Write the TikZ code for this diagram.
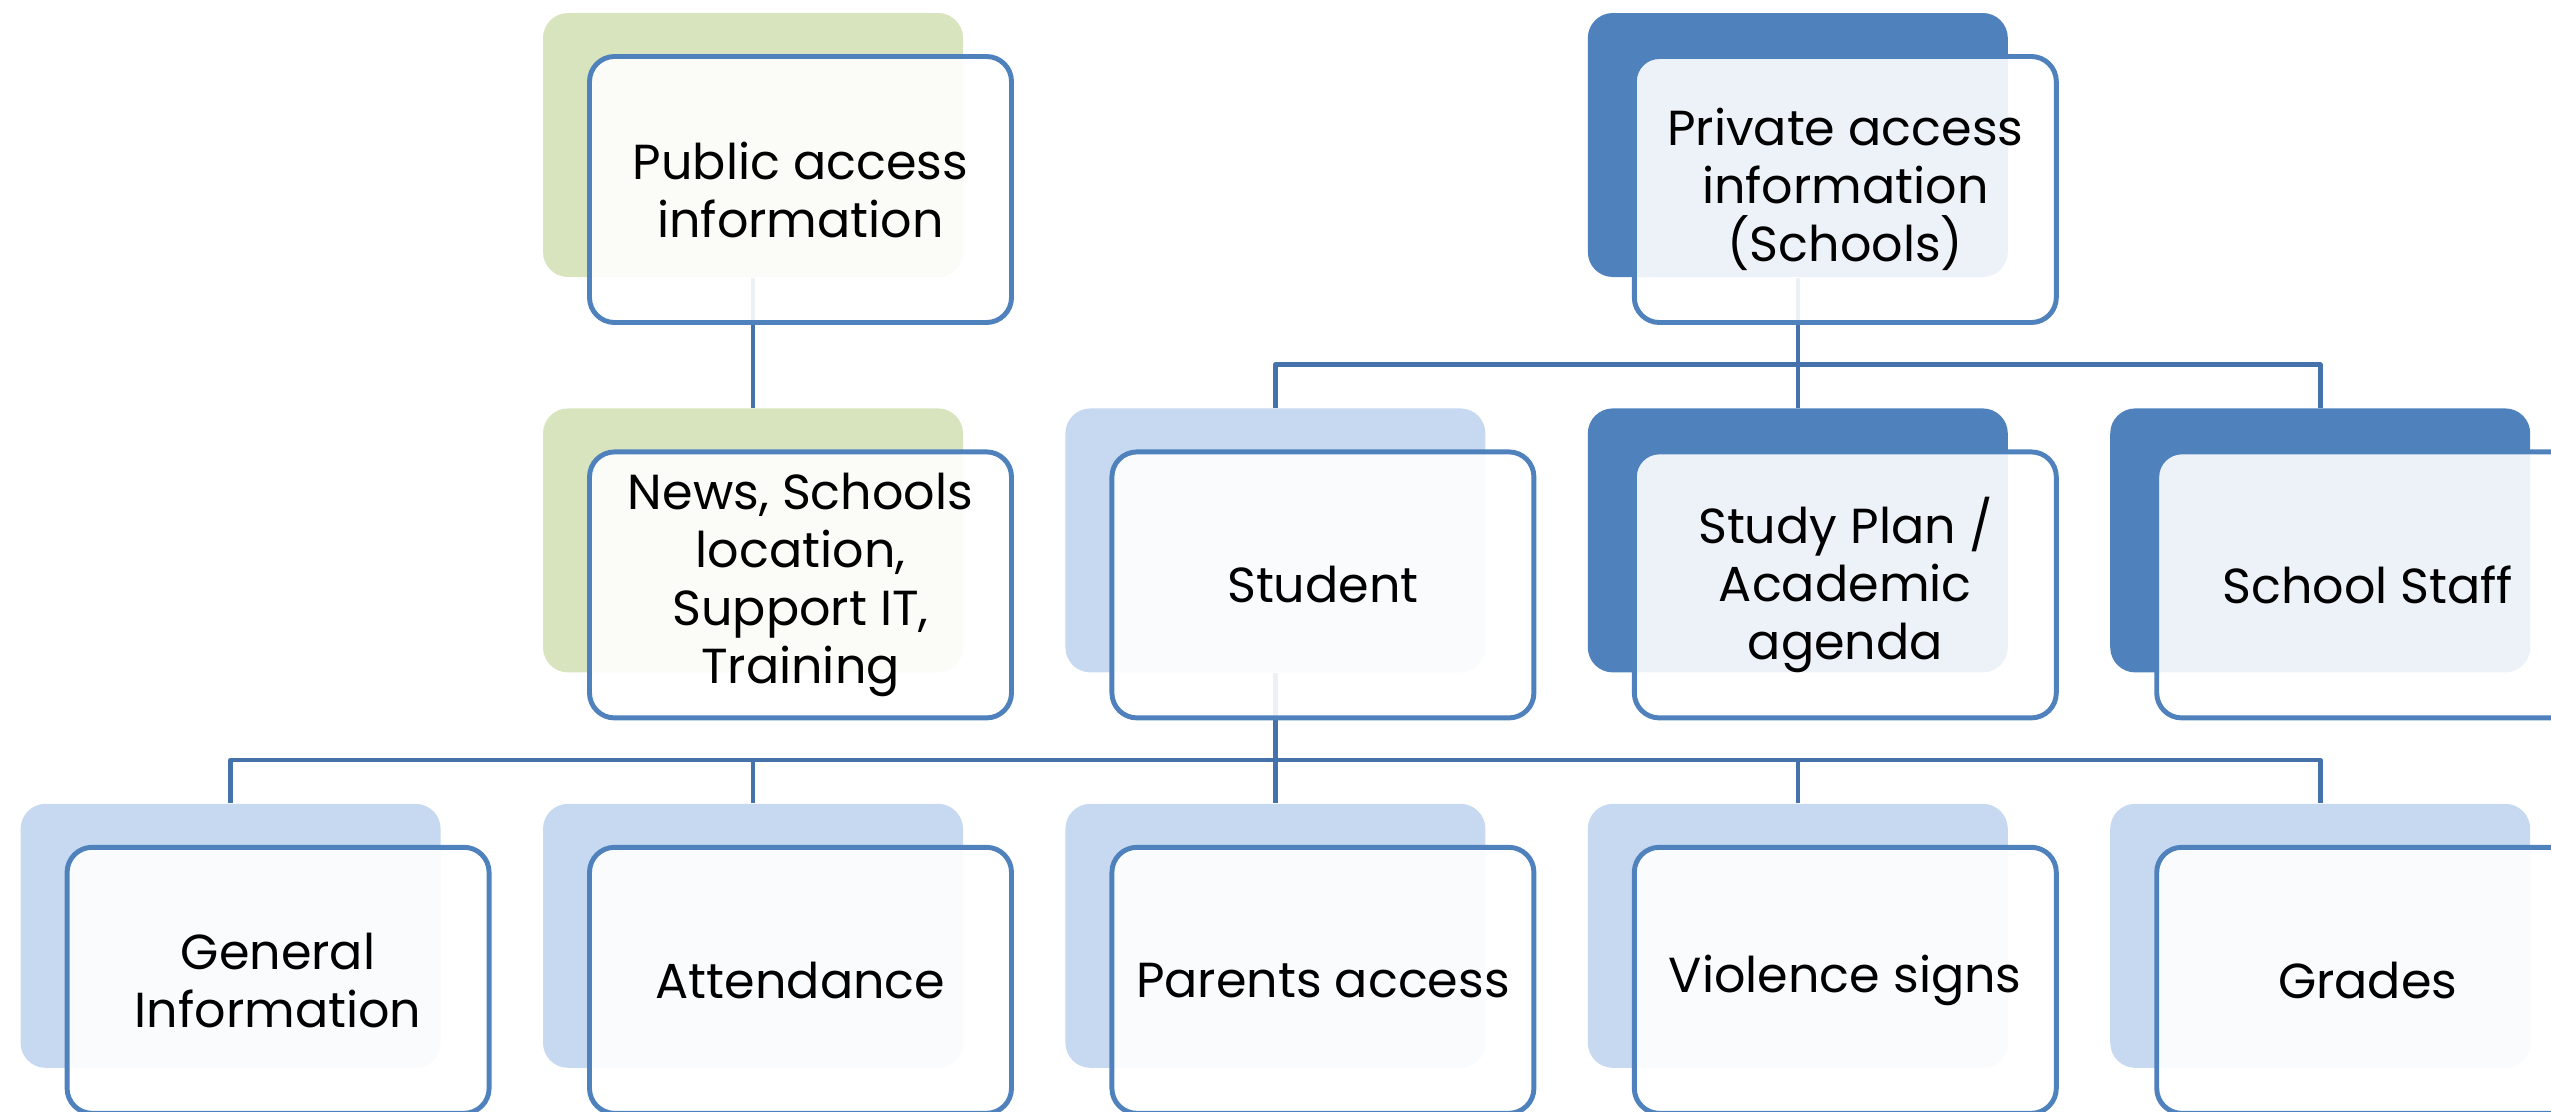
\documentclass[tikz,border=0pt]{standalone}
\usepackage{fontspec}
\setmainfont{Poppins}
\usetikzlibrary{positioning}
\definecolor{greenbg}{HTML}{D7E4BD}
\definecolor{darkbg}{HTML}{4F81BD}
\definecolor{lightbg}{HTML}{C6D9F1}
\definecolor{frame}{HTML}{4F81BD}
\definecolor{linkblue}{HTML}{4672AB}
\begin{document}
\begin{tikzpicture}[line join=round, font=\fontsize{14}{16.5}\selectfont]
	\tikzset{back/.style={rounded corners=2.5mm, minimum width=4.2cm, minimum height=2.64cm, inner sep=0pt},
		front/.style={draw=frame, line width=1.4pt, fill=white, fill opacity=.9, text opacity=1, rounded corners=2.5mm,
			minimum width=4.22cm, minimum height=2.66cm, inner sep=0pt, align=center, xshift=4.75mm, yshift=-4.45mm},
		link/.style={draw=linkblue, line width=1.3pt}}
	\def \hgap{1.01cm}\def \vgap{1.3cm}
	\useasboundingbox (0,0) rectangle (25.51,-11.11);
	% back cards
	\node[back, fill=greenbg] (pubB) at (7.53,-1.45) {};
	\node[back, fill=greenbg, below=\vgap of pubB] (newsB) {};
	\node[back, fill=lightbg, right=\hgap of newsB] (studB) {};
	\node[back, fill=darkbg, right=\hgap of studB] (planB) {};
	\node[back, fill=darkbg, right=\hgap of planB] (staffB) {};
	\node[back, fill=darkbg, above=\vgap of planB] (privB) {};
	\node[back, fill=lightbg, below=\vgap of newsB] (attB) {};
	\node[back, fill=lightbg, left=\hgap of attB] (genB) {};
	\node[back, fill=lightbg, below=\vgap of studB] (parB) {};
	\node[back, fill=lightbg, below=\vgap of planB] (violB) {};
	\node[back, fill=lightbg, below=\vgap of staffB] (gradB) {};
	% links
	\draw[link] (pubB.south) -- (newsB.north);
	\draw[link] (privB.south) -- ++(0,-0.87) coordinate (privJ);
	\draw[link] (privJ) -| (studB.north);
	\draw[link] (privJ) -| (staffB.north);
	\draw[link] (privJ) -- (planB.north);
	\draw[link] (studB.south) -- ++(0,-0.87) coordinate (studJ);
	\foreach \k in {genB,attB,parB,violB,gradB}
		\draw[link] (studJ) -| (\k.north);
	% front cards
	\node[front] (pub) at (pubB) {Public access\\information};
	\node[front] (news) at (newsB) {News, Schools\\location,\\Support IT,\\Training};
	\node[front] (priv) at (privB) {Private access\\information\\(Schools)};
	\node[front] (stud) at (studB) {Student};
	\node[front] (plan) at (planB) {Study Plan /\\Academic\\agenda};
	\node[front] (staff) at (staffB) {School Staff};
	\node[front] (gen) at (genB) {General\\Information};
	\node[front] (att) at (attB) {Attendance};
	\node[front] (par) at (parB) {Parents access};
	\node[front] (viol) at (violB) {Violence signs};
	\node[front] (grad) at (gradB) {Grades};
\end{tikzpicture}
\end{document}
